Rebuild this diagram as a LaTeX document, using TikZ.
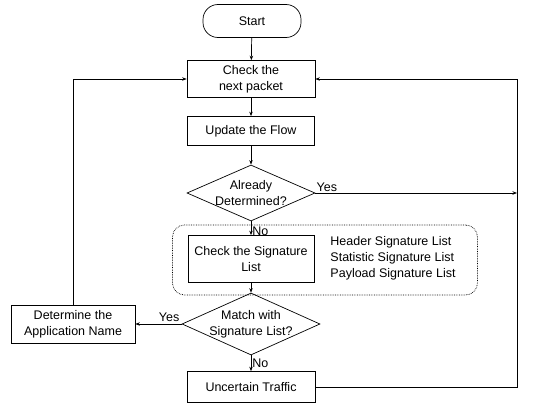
\documentclass[tikz,border=0pt]{standalone}
\usepackage{fontspec}
\setmainfont{Liberation Sans}
\usetikzlibrary{shapes.geometric,arrows.meta}

\begin{document}
\begin{tikzpicture}[x=1pt,y=-1pt,line width=0.7pt,
        font=\fontsize{12.5}{16}\selectfont,
        stepbox/.style={draw,rectangle,align=center,inner sep=2pt},
        startbox/.style={draw,rectangle,rounded corners=15pt,align=center},
        decision/.style={draw,diamond,aspect=2.3,inner xsep=0pt,inner ysep=-4pt,align=center},
        grouparea/.style={draw,densely dotted,rounded corners=12pt},
        arr/.style={-{Stealth[length=4.5pt,width=3.5pt]}}]
        \useasboundingbox (0,0) rectangle (533,404);

        % draw boxes of the main column
        \node[startbox,minimum width=98pt,minimum height=33pt] (start) at (252,21) {Start};
        \node[stepbox,minimum width=128pt,minimum height=37pt] (check) at (251,79) {Check the\\next packet};
        \node[stepbox,minimum width=127pt,minimum height=29pt] (update) at (251,131) {Update the Flow};
        \node[decision,minimum width=128pt,minimum height=56pt] (known) at (251,193) {Already\\Determined?};

        % draw signature area
        \node[grouparea,minimum width=305pt,minimum height=70pt] (sigarea) at (325,260) {};
        \node[stepbox,minimum width=126pt,minimum height=47pt] (sig) at (251,259) {Check the Signature\\List};
        \node[align=left] (sigtypes) at (393,258) {Header Signature List\\Statistic Signature List\\Payload Signature List};

        % draw lower boxes
        \node[decision,minimum width=138pt,minimum height=62pt] (match) at (251,324) {Match with\\Signature List?};
        \node[stepbox,minimum width=124pt,minimum height=38pt] (appname) at (73,324) {Determine the\\Application Name};
        \node[stepbox,minimum width=128pt,minimum height=31pt] (uncertain) at (251,387) {Uncertain Traffic};
        \coordinate (rtop) at (517,79);

        % draw connectors
        \draw[arr] (start) -- (check);
        \draw[arr] (check) -- (update);
        \draw[arr] (update) -- (known);
        \draw[arr] (known) -- node[pos=0.7,right,inner sep=1pt] {No} (sig);
        \draw[arr] (sig) -- (match);
        \draw[arr] (match) -- node[right,inner sep=1pt] {No} (uncertain);
        \draw[arr] (match.west) -- node[pos=0,above left,inner sep=2pt] {Yes} (appname.east);
        \draw[arr] (known.east) -- node[pos=0,above right,inner sep=1pt] {Yes} (known.east -| rtop);
        \draw[arr] (appname) |- (check);
        \draw[arr] (uncertain) -| (rtop) -- (check);
\end{tikzpicture}
\end{document}
